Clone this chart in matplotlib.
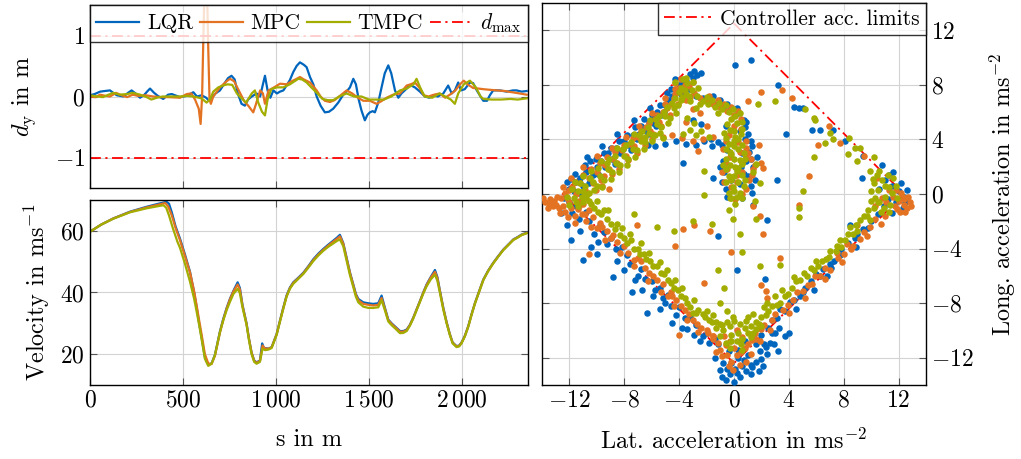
import numpy as np
import matplotlib
matplotlib.use("Agg")
import matplotlib.pyplot as plt
from matplotlib.ticker import FuncFormatter

plt.rcParams['font.family'] = 'serif'
plt.rcParams['font.serif'] = ['cmr10']
plt.rcParams['mathtext.fontset'] = 'cm'
plt.rcParams['axes.unicode_minus'] = False
plt.rcParams['font.size'] = 15

# colours (TUM)
c_lqr = '#0065BD'
c_mpc = '#E37222'
c_tmpc = '#A2AD00'

TICK_FS = 17
LABEL_FS = 17.5
LEG_FS = 15.5

# lateral deviation d_y over s  (s, d_y)
dy_lqr = [(0, 0.02), (25, 0.04), (55, 0.08), (80, 0.09), (108, 0.1), (125, 0.06), (145, 0.02), (180, 0.0),
          (205, 0.06), (224, 0.1), (245, 0.05), (269, -0.02), (290, 0.02), (310, 0.09), (323, 0.13), (345, 0.06),
          (365, 0.01), (394, -0.04), (420, 0.03), (440, 0.04), (484, -0.01), (520, 0.01), (556, 0.07), (575, 0.0),
          (600, 0.02), (625, -0.02), (640, -0.07), (655, -0.02), (675, 0.05), (699, 0.1), (720, 0.2), (742, 0.3),
          (761, 0.34), (778, 0.28), (795, 0.05), (815, -0.12), (833, -0.15), (850, -0.05), (870, 0.0), (896, 0.05),
          (915, 0.0), (930, 0.2), (941, 0.34), (955, 0.1), (970, -0.02), (986, 0.1), (1005, 0.05), (1022, 0.08),
          (1040, 0.1), (1057, 0.18), (1075, 0.27), (1093, 0.4), (1111, 0.5), (1129, 0.56), (1150, 0.52),
          (1165, 0.48), (1183, 0.32), (1201, 0.2), (1219, 0.0), (1240, -0.15), (1263, -0.26), (1285, -0.25),
          (1308, -0.2), (1335, -0.1), (1362, 0.03), (1385, 0.1), (1398, 0.15), (1416, 0.29), (1430, 0.2),
          (1445, -0.05), (1460, -0.23), (1478, -0.39), (1492, -0.3), (1505, -0.26), (1520, -0.24), (1532, -0.26),
          (1550, -0.1), (1568, 0.15), (1585, 0.38), (1604, 0.51), (1620, 0.38), (1640, 0.1), (1658, -0.02),
          (1675, 0.05), (1703, 0.13), (1720, 0.19), (1747, 0.15), (1774, 0.08), (1801, 0.0), (1825, -0.02),
          (1846, 0.02), (1870, 0.0), (1900, 0.05), (1926, 0.18), (1945, 0.05), (1962, 0.1), (1980, 0.23),
          (1995, 0.1), (2015, 0.12), (2043, 0.23), (2060, 0.22), (2080, 0.1), (2100, 0.0), (2115, -0.07),
          (2135, -0.07), (2150, 0.02), (2168, 0.1), (2204, 0.1), (2240, 0.08), (2275, 0.1), (2294, 0.1),
          (2321, 0.08), (2348, 0.09)]
dy_mpc = [(0, 0.0), (30, -0.01), (54, 0.03), (85, 0.01), (108, 0.0), (140, 0.06), (170, 0.02), (200, -0.01),
          (230, 0.03), (260, 0.01), (300, 0.02), (340, 0.0), (380, -0.01), (420, -0.01), (484, -0.02), (520, 0.04),
          (545, 0.05), (565, -0.05), (585, -0.2), (595, -0.45), (603, 0.0), (610, 1.0), (618, 2.0), (628, 2.0),
          (636, 0.8), (643, -0.05), (650, -0.12), (663, 0.0), (699, 0.15), (735, 0.25), (753, 0.29), (775, 0.25),
          (800, 0.1), (830, -0.08), (851, -0.15), (878, -0.26), (890, -0.15), (900, -0.05), (915, 0.1), (930, 0.05),
          (941, -0.12), (960, 0.1), (990, 0.15), (1022, 0.21), (1057, 0.2), (1085, 0.25), (1111, 0.29),
          (1129, 0.32), (1150, 0.28), (1183, 0.23), (1219, 0.1), (1240, 0.0), (1263, -0.07), (1290, -0.09),
          (1315, -0.06), (1340, 0.0), (1380, 0.1), (1410, 0.05), (1440, -0.02), (1470, -0.07), (1505, -0.07),
          (1541, -0.12), (1565, -0.08), (1595, -0.02), (1630, 0.03), (1667, 0.05), (1703, 0.18), (1725, 0.2),
          (1747, 0.23), (1770, 0.15), (1795, 0.02), (1820, 0.0), (1850, 0.03), (1880, 0.05), (1910, -0.02),
          (1940, 0.04), (1965, 0.1), (1990, 0.2), (2010, 0.26), (2030, 0.2), (2060, 0.14), (2090, 0.13),
          (2115, 0.12), (2150, 0.11), (2190, 0.1), (2230, 0.09), (2270, 0.07), (2310, 0.05), (2348, 0.03)]
dy_tmpc = [(0, 0.02), (40, 0.0), (70, -0.01), (100, 0.03), (125, 0.06), (160, 0.03), (200, 0.04), (230, 0.06),
           (270, 0.03), (305, -0.01), (330, -0.05), (360, -0.02), (390, 0.0), (420, 0.0), (484, 0.0), (520, 0.01),
           (556, 0.0), (600, -0.03), (627, -0.1), (645, -0.05), (663, 0.08), (690, 0.15), (716, 0.18), (740, 0.2),
           (765, 0.19), (790, 0.05), (815, -0.03), (840, -0.1), (870, 0.05), (887, 0.1), (905, -0.1), (925, -0.25),
           (941, -0.31), (955, -0.05), (975, 0.12), (1005, 0.15), (1040, 0.15), (1075, 0.2), (1100, 0.25),
           (1120, 0.29), (1140, 0.28), (1165, 0.23), (1190, 0.15), (1220, 0.06), (1250, -0.04), (1280, -0.06),
           (1308, -0.06), (1340, 0.0), (1380, 0.05), (1420, 0.0), (1460, 0.0), (1500, -0.05), (1541, -0.05),
           (1580, -0.05), (1620, 0.0), (1667, 0.1), (1703, 0.13), (1740, 0.2), (1756, 0.29), (1775, 0.15),
           (1800, 0.0), (1840, -0.02), (1880, 0.05), (1910, 0.0), (1940, -0.05), (1962, -0.12), (1980, 0.05),
           (2010, 0.2), (2043, 0.26), (2075, 0.15), (2100, 0.0), (2115, -0.04), (2160, -0.05), (2210, -0.05),
           (2260, -0.04), (2300, -0.05), (2348, -0.03)]
d_max = 1.0

# velocity over s  (s, v)
v_lqr = [(0, 59.7), (60, 62.0), (125, 64.0), (215, 66.2), (305, 67.8), (376, 68.9), (412, 69.4), (425, 68.8),
         (440, 66.0), (460, 61.5), (484, 57.5), (510, 52.5), (538, 46.7), (560, 40.0), (573, 35.5), (587, 30.0),
         (600, 25.5), (618, 19.0), (636, 16.6), (654, 17.0), (672, 19.8), (699, 27.4), (717, 31.5), (735, 35.0),
         (753, 38.0), (771, 40.5), (794, 43.3), (806, 41.5), (820, 36.0), (842, 30.0), (855, 25.0), (869, 20.5),
         (883, 18.0), (896, 17.3), (914, 18.0), (926, 23.5), (935, 22.0), (960, 21.8), (977, 22.3), (1004, 26.6),
         (1020, 30.5), (1039, 35.0), (1057, 39.0), (1075, 41.6), (1093, 43.3), (1120, 44.8), (1147, 46.4),
         (1175, 48.6), (1201, 50.8), (1228, 52.6), (1254, 54.1), (1281, 55.5), (1308, 56.8), (1330, 57.9),
         (1344, 58.7), (1362, 56.0), (1380, 51.3), (1398, 46.5), (1416, 42.6), (1430, 39.5), (1443, 37.9),
         (1470, 36.8), (1497, 36.5), (1523, 36.3), (1550, 36.5), (1568, 39.0), (1586, 35.0), (1604, 31.2),
         (1622, 30.0), (1640, 29.0), (1667, 27.5), (1685, 27.5), (1703, 28.0), (1720, 29.5), (1738, 31.8),
         (1756, 34.5), (1774, 37.2), (1792, 40.0), (1810, 42.6), (1832, 45.0), (1855, 47.3), (1868, 45.0),
         (1882, 40.5), (1900, 35.0), (1918, 30.3), (1935, 26.5), (1950, 23.8), (1971, 22.6), (1985, 22.8),
         (1998, 23.8), (2016, 26.0), (2034, 29.1), (2052, 33.0), (2070, 36.6), (2093, 40.5), (2115, 44.2),
         (2140, 47.0), (2168, 49.6), (2195, 51.8), (2222, 53.9), (2250, 55.6), (2276, 57.2), (2300, 58.0),
         (2321, 58.8), (2348, 59.4)]
v_mpc = [(0, 59.7), (60, 62.0), (125, 64.0), (215, 66.1), (305, 67.6), (376, 68.6), (405, 69.0), (420, 68.0),
         (440, 65.0), (460, 61.0), (484, 57.0), (510, 52.0), (538, 46.5), (560, 40.5), (573, 36.0), (587, 31.0),
         (600, 26.5), (618, 20.0), (636, 17.0), (654, 16.8), (672, 19.5), (699, 27.0), (717, 31.2), (735, 34.8),
         (753, 37.8), (771, 40.3), (794, 42.6), (806, 41.0), (820, 35.8), (842, 29.8), (855, 25.0), (869, 20.5),
         (883, 17.8), (896, 17.2), (914, 17.8), (928, 22.8), (941, 21.8), (960, 21.8), (977, 22.2), (1004, 26.5),
         (1020, 30.3), (1039, 34.8), (1057, 38.8), (1075, 41.4), (1093, 43.1), (1120, 44.6), (1147, 46.2),
         (1175, 48.4), (1201, 50.5), (1228, 52.3), (1254, 53.8), (1281, 55.2), (1308, 56.5), (1330, 57.5),
         (1344, 58.2), (1362, 55.8), (1380, 51.0), (1398, 46.3), (1416, 42.3), (1430, 39.2), (1443, 37.5),
         (1470, 36.3), (1497, 36.0), (1523, 35.8), (1550, 36.0), (1568, 38.2), (1586, 34.7), (1604, 31.0),
         (1622, 29.8), (1640, 28.8), (1667, 27.3), (1685, 27.3), (1703, 27.8), (1720, 29.4), (1738, 31.7),
         (1756, 34.4), (1774, 37.1), (1792, 39.9), (1810, 42.4), (1832, 44.8), (1855, 46.7), (1868, 44.6),
         (1882, 40.3), (1900, 34.8), (1918, 30.2), (1935, 26.4), (1950, 23.7), (1971, 22.5), (1985, 22.7),
         (1998, 23.7), (2016, 25.9), (2034, 29.0), (2052, 32.9), (2070, 36.5), (2093, 40.4), (2115, 44.1),
         (2140, 46.9), (2168, 49.5), (2195, 51.7), (2222, 53.8), (2250, 55.5), (2276, 57.1), (2300, 57.9),
         (2321, 58.7), (2348, 59.3)]
v_tmpc = [(0, 59.7), (60, 62.0), (125, 63.9), (215, 66.0), (305, 67.3), (376, 68.1), (395, 68.3), (410, 67.5),
          (425, 65.0), (445, 61.0), (470, 56.5), (484, 54.5), (510, 49.5), (538, 43.5), (560, 38.0), (573, 34.0),
          (587, 29.5), (600, 25.0), (618, 18.5), (636, 16.2), (654, 16.9), (672, 19.7), (699, 27.2), (717, 31.0),
          (735, 34.3), (753, 37.0), (771, 39.5), (794, 41.2), (806, 39.8), (820, 35.2), (842, 29.5), (855, 24.5),
          (869, 20.0), (883, 17.5), (896, 16.9), (914, 17.5), (928, 21.8), (941, 21.3), (960, 21.5), (977, 22.0),
          (1004, 26.3), (1020, 30.2), (1039, 34.6), (1057, 38.6), (1075, 41.2), (1093, 42.8), (1120, 44.4),
          (1147, 46.0), (1175, 48.1), (1201, 50.2), (1228, 52.0), (1254, 53.5), (1281, 54.8), (1308, 55.9),
          (1330, 56.8), (1344, 57.2), (1362, 55.0), (1380, 50.3), (1398, 45.6), (1416, 41.7), (1430, 38.6),
          (1443, 36.8), (1470, 35.4), (1497, 35.0), (1523, 35.0), (1550, 35.2), (1568, 37.5), (1586, 34.2),
          (1604, 30.6), (1622, 29.4), (1640, 28.4), (1667, 26.8), (1685, 26.9), (1703, 27.5), (1720, 29.2),
          (1738, 31.5), (1756, 34.2), (1774, 36.9), (1792, 39.6), (1810, 42.0), (1832, 44.2), (1855, 45.8),
          (1868, 43.8), (1882, 39.8), (1900, 34.4), (1918, 29.9), (1935, 26.2), (1950, 23.5), (1971, 22.3),
          (1985, 22.5), (1998, 23.5), (2016, 25.8), (2034, 28.9), (2052, 32.8), (2070, 36.4), (2093, 40.3),
          (2115, 44.0), (2140, 46.8), (2168, 49.4), (2195, 51.6), (2222, 53.7), (2250, 55.4), (2276, 57.0),
          (2300, 57.8), (2321, 58.6), (2348, 59.2)]

# acceleration limit polygon (lat, long)
acc_limit = [(0, 12.5), (12.4, 0), (0, -12.4), (-12.5, 0), (0, 12.5)]

# measured accelerations (lat, long)
acc_lqr = [
    # upper left edge
    (-12.4, -0.3), (-12.0, 0.4), (-11.7, 0.2), (-11.5, 0.9), (-11.2, 1.2), (-11.0, 0.6), (-10.8, 1.6), (-10.5, 2.4),
    (-10.3, 1.4), (-10.0, 2.0), (-9.7, 2.4), (-9.4, 2.0), (-9.2, 3.0), (-8.9, 2.6), (-8.6, 3.4), (-8.3, 3.0),
    (-8.0, 3.9), (-7.7, 3.6), (-7.4, 4.3), (-7.1, 4.0), (-6.8, 5.0), (-6.5, 4.7), (-6.2, 5.3), (-5.9, 5.2),
    (-5.6, 6.0), (-5.3, 5.8), (-5.0, 6.5), (-4.8, 6.9), (-4.5, 7.2), (-4.2, 7.6), (-3.9, 7.3),
    (-12.2, 0.9), (-11.9, 1.1), (-11.3, 0.1), (-10.9, 2.1), (-10.6, 0.8), (-10.1, 2.6), (-9.9, 1.5), (-9.5, 3.0),
    (-9.0, 3.4), (-8.7, 2.2), (-8.4, 3.9), (-8.1, 3.3), (-7.8, 4.3), (-7.5, 3.2), (-7.2, 4.9), (-6.9, 4.4),
    (-6.6, 5.5), (-6.3, 4.4), (-6.0, 5.8), (-5.7, 5.0), (-5.4, 6.5), (-5.1, 6.0), (-4.6, 7.7), (-4.0, 8.0),
    (-3.7, 8.2), (-11.6, 1.5), (-10.7, 2.7), (-9.6, 3.5), (-8.5, 4.4), (-7.3, 5.4), (-6.1, 6.3), (-4.9, 7.4),
    (-4.3, 8.4), (-3.2, 8.8), (-2.9, 9.0),
    # top arc
    (-3.5, 8.3), (-3.0, 8.5), (-2.7, 8.7), (-2.4, 8.9), (-3.3, 7.7), (-2.8, 7.2), (-2.3, 7.0), (-1.8, 6.9),
    (-1.3, 6.6), (-0.8, 6.4), (-0.3, 6.2), (0.3, 5.9), (0.7, 5.4), (-1.5, 7.2), (-1.0, 6.9), (-0.5, 6.6),
    (0.2, 6.3),
    # inner ring
    (-6.3, 3.6), (-5.8, 3.5), (-5.0, 3.7), (-4.2, 3.9), (-3.5, 3.7), (-2.8, 3.6), (-2.2, 3.9), (-1.6, 3.5),
    (-1.2, 3.8), (-3.0, 5.4), (-2.4, 5.1), (-1.7, 4.0), (-3.75, 2.3), (-1.5, 1.2),
    # centre column
    (-0.6, 5.0), (0.4, 4.6), (0.8, 4.0), (-0.5, 3.2), (0.6, 3.0), (1.2, 2.6), (0.5, 2.0), (-0.7, 1.6),
    (1.0, 1.3), (0.4, 0.7), (-0.6, 0.4), (1.3, 0.1), (0.9, 5.3), (1.2, 3.9), (1.65, 2.7), (-0.2, 1.0),
    (0.8, 4.9), (1.0, 4.4), (1.3, 3.5), (0.9, 2.4), (1.4, 2.0), (0.7, 1.5), (1.2, 0.6), (0.6, -0.3),
    (-0.8, 2.4), (-0.9, 0.9), (-0.5, -0.2), (-0.9, 3.6), (-1.0, 2.0), (1.1, 3.1), (1.5, 1.0),
    # upper right edge
    (0.1, 9.45), (1.2, 9.8), (3.2, 8.0), (4.4, 6.35), (4.7, 6.3), (5.0, 6.3), (3.8, 4.4), (5.7, 4.7),
    (6.3, 4.7), (7.2, 4.7), (8.1, 3.9), (9.4, 2.8), (10.8, 2.1), (9.3, 1.2), (11.3, 1.4), (3.1, 1.0),
    (11.0, 1.0), (11.5, 0.6), (12.0, 0.2), (12.4, -0.2), (11.8, -0.6), (12.3, -1.0), (11.2, -0.4), (10.6, 0.4),
    (12.6, 0.3), (11.6, 1.6), (12.2, 0.8), (12.5, -0.6), (11.5, -1.4), (10.9, -0.9),
    # lower right edge
    (10.0, -2.0), (9.4, -2.6), (8.45, -2.3), (8.8, -3.2), (7.7, -4.5), (7.3, -4.9), (6.0, -5.9), (6.5, -5.5),
    (5.2, -6.9), (4.8, -7.5), (4.1, -7.9), (3.35, -8.4), (2.8, -9.2), (3.7, -10.4), (4.0, -10.2), (3.2, -11.5),
    (2.3, -11.2), (2.4, -11.7), (2.0, -12.1), (1.3, -12.7), (0.25, -13.1), (1.2, -13.2), (2.1, -12.6), (7.0, -5.1),
    (9.8, -2.5), (9.0, -2.9), (8.3, -3.6), (7.8, -4.0), (7.1, -5.4), (6.3, -6.0), (5.6, -6.4), (5.0, -7.2),
    (4.4, -7.8), (3.7, -8.6), (3.1, -9.1), (2.5, -9.8), (2.0, -10.3), (10.5, -1.5), (8.9, -3.9), (6.8, -6.0),
    (5.8, -7.0), (4.5, -8.4), (3.0, -10.2),
    # bottom
    (-0.6, -13.6), (0.0, -13.8), (-0.3, -13.2), (0.6, -12.6), (-0.8, -12.4), (0.3, -12.0), (1.0, -11.8),
    (-0.4, -11.5), (1.6, -11.0), (0.8, -10.8), (-1.2, -11.0), (-1.8, -10.9), (1.6, -12.3), (2.6, -10.9),
    (0.1, -12.8), (-1.0, -12.9), (0.3, -11.4), (0.7, -12.2), (1.2, -12.5), (1.9, -11.5), (-0.5, -12.8),
    (0.4, -13.4), (-0.2, -12.4), (1.5, -10.6), (2.2, -11.0), (2.8, -10.2), (3.3, -9.8), (0.9, -13.0),
    (-1.4, -12.0), (2.9, -11.0), (1.8, -13.0), (-0.9, -13.4),
    # lower left edge
    (-12.2, -2.3), (-11.9, -3.4), (-11.0, -4.85), (-10.0, -4.4), (-10.4, -3.9), (-8.8, -6.1), (-7.45, -7.15),
    (-6.35, -8.7), (-7.2, -6.3), (-5.75, -7.0), (-5.0, -8.0), (-4.5, -9.45), (-2.5, -10.8), (-11.5, -0.9),
    (-10.8, -1.3), (-9.8, -2.3), (-9.0, -3.2), (-8.2, -3.9), (-7.8, -4.5), (-6.8, -5.5), (-6.0, -6.4),
    (-5.4, -6.9), (-4.8, -7.4), (-4.0, -8.3), (-3.2, -9.0), (-2.8, -9.6), (-2.0, -10.2), (-1.4, -10.6),
    (-11.8, -1.4), (-11.3, -1.8), (-10.6, -2.0), (-10.2, -2.9), (-9.5, -2.8), (-9.3, -3.7), (-8.6, -4.0),
    (-8.5, -4.9), (-7.6, -5.1), (-7.0, -6.0), (-6.5, -6.2), (-5.9, -7.5), (-5.2, -7.6), (-4.6, -8.2),
    (-4.2, -8.9), (-3.6, -9.1), (-3.4, -9.9), (-2.9, -10.3), (-2.3, -10.4), (-12.0, -0.6), (-12.6, -1.4),
    (-11.2, -2.7), (-9.9, -3.5), (-8.0, -5.6), (-6.7, -7.0), (-5.4, -8.4), (-3.8, -9.8),
    # interior
    (-1.2, -3.1), (0.2, -5.6), (2.25, -6.2), (2.4, -1.9), (1.4, -0.8)]
acc_mpc = [
    # upper left edge
    (-13.8, -0.6), (-13.4, -0.4), (-13.0, -0.8), (-12.6, -0.3), (-12.3, 0.1), (-12.0, -0.6), (-11.8, 0.5),
    (-11.5, 0.0), (-11.2, 0.8), (-10.9, 0.3), (-10.6, 1.2), (-10.3, 0.8), (-10.0, 1.6), (-9.7, 1.0), (-9.4, 2.1),
    (-9.1, 1.8), (-8.8, 2.6), (-8.5, 2.3), (-8.2, 3.2), (-7.9, 2.8), (-7.6, 3.7), (-7.3, 3.5), (-7.0, 4.2),
    (-6.7, 4.0), (-6.4, 4.9), (-6.1, 4.6), (-5.8, 5.5), (-5.5, 5.3), (-5.2, 6.0), (-4.9, 6.3), (-4.6, 6.6),
    (-4.3, 7.3), (-4.0, 7.8), (-9.5, 1.3), (-9.1, 0.4),
    (-12.0, 0.3), (-11.6, 0.9), (-11.3, -0.5), (-11.0, 1.4), (-10.7, 0.0), (-10.4, 1.8), (-10.1, 0.3),
    (-9.8, 2.3), (-9.6, 0.6), (-9.3, 2.7), (-8.9, 1.5), (-8.7, 3.1), (-8.4, 1.8), (-8.0, 3.6), (-7.7, 2.5),
    (-7.4, 4.1), (-7.1, 3.0), (-6.8, 4.6), (-6.5, 3.6), (-6.2, 5.2), (-5.9, 4.4), (-5.6, 5.8), (-5.3, 5.0),
    (-5.0, 6.6), (-4.7, 5.8), (-4.4, 7.0), (-4.1, 6.6), (-3.6, 8.0), (-3.5, 6.9),
    (-12.5, 0.5), (-11.9, 1.2), (-11.0, 2.0), (-10.0, 2.8), (-8.9, 3.4), (-7.9, 4.2), (-6.9, 5.0), (-6.0, 5.9),
    (-5.0, 7.0), (-4.3, 7.7), (-3.9, 8.4), (-3.0, 8.2),
    (-13.2, -0.9), (-12.9, -0.2), (-12.5, -0.9), (-12.2, -0.3), (-11.9, -1.0), (-11.4, -1.1), (-11.1, -1.5),
    (-10.8, -2.0), (-10.4, -2.4), (-13.9, -0.3), (-13.6, -1.0), (-13.1, -0.5), (-12.7, -1.4), (-12.1, -1.7),
    (-11.6, -2.1),
    # top arc
    (-4.3, 8.1), (-3.8, 7.6), (-3.3, 7.9), (-2.9, 7.4), (-2.5, 7.0), (-2.0, 6.8), (-1.5, 6.6), (-1.0, 6.4),
    (-0.5, 6.1), (0.0, 5.8), (0.5, 5.5), (-3.0, 6.2), (-2.5, 5.9), (-1.8, 7.2), (-1.2, 6.9), (-0.7, 6.6),
    (-0.2, 6.4), (0.3, 6.1), (-3.2, 7.1),
    # inner ring
    (-6.0, 4.0), (-5.2, 4.2), (-4.5, 4.3), (-3.8, 4.1), (-3.0, 3.9), (-2.3, 4.0), (-1.5, 4.2), (-3.5, 5.3),
    (-2.6, 3.15), (-2.0, 5.0),
    # centre column
    (0.0, 5.0), (-0.4, 4.3), (0.3, 3.8), (0.9, 3.4), (-0.3, 2.7), (0.6, 2.3), (1.5, 2.1), (-0.5, 1.8),
    (0.2, 1.4), (1.1, 1.0), (-0.2, 0.5), (0.6, 0.0), (1.8, 3.6), (1.4, 1.8), (2.0, 2.3),
    (0.5, 4.8), (-0.6, 3.9), (0.9, 3.9), (0.4, 3.1), (-0.6, 2.3), (0.9, 2.7), (1.3, 1.4), (0.2, 0.9),
    (-0.7, 0.9), (0.9, 0.4), (0.1, -0.4), (-0.8, 3.3), (-0.9, 1.6), (1.2, 2.6), (0.6, 1.6),
    # upper right edge
    (2.0, 7.5), (3.5, 7.6), (1.0, 6.8), (4.2, 7.0), (6.9, 5.0), (6.1, 3.6), (7.7, 3.75), (9.5, 2.8),
    (10.4, 1.2), (5.5, 1.3), (2.1, 1.9), (1.0, 3.0),
    (11.6, -0.2), (12.0, -0.5), (12.4, -0.8), (12.8, -0.6), (11.9, -1.1), (12.5, -1.3), (11.3, 0.3),
    (10.8, -0.3), (12.2, 0.1), (10.3, -0.9), (12.7, -0.2), (11.7, -0.9), (12.1, -1.3), (12.6, -1.0),
    (12.9, -0.9), (12.3, -0.2), (11.8, 0.3), (11.1, -0.6), (12.4, -0.4),
    # lower right edge
    (9.5, -2.8), (9.0, -2.3), (8.7, -3.8), (8.2, -3.7), (7.9, -5.0), (7.5, -4.3), (6.6, -5.4), (5.4, -6.7),
    (5.9, -6.0), (4.6, -7.2), (3.9, -8.1), (2.4, -7.6), (3.0, -8.8), (2.2, -9.6), (3.35, -4.7), (2.1, -2.9),
    (10.3, -1.8), (9.9, -2.4), (9.2, -3.3), (8.5, -4.0), (7.6, -4.7), (7.0, -5.6), (6.3, -6.0), (5.7, -6.6),
    (5.0, -7.1), (4.3, -7.8), (3.6, -8.5), (2.8, -9.2), (2.0, -9.9), (1.6, -10.6),
    (11.0, -1.6), (10.7, -2.2), (9.7, -3.1), (8.0, -4.4), (6.6, -6.2), (5.2, -7.6), (4.0, -8.7), (2.6, -10.0),
    # bottom
    (-1.0, -11.4), (-0.5, -11.8), (0.0, -11.3), (0.5, -11.6), (1.0, -11.0), (-0.2, -12.3), (-1.5, -10.6),
    (0.6, -10.5), (1.5, -10.2), (0.2, -10.0), (-0.7, -10.4), (-1.5, -10.4), (-0.1, -12.9),
    (-0.6, -11.1), (0.2, -11.8), (0.8, -11.3), (-0.9, -11.9), (-0.3, -10.8), (1.3, -10.7), (0.4, -12.5),
    (-1.2, -10.9), (-1.9, -10.2), (-0.4, -12.6), (1.2, -11.7), (0.9, -12.3), (-1.3, -11.6), (1.9, -10.8),
    # lower left edge
    (-10.25, -1.7), (-9.3, -2.7), (-7.3, -4.85), (-4.8, -7.5), (-4.5, -7.5), (-1.5, -10.4), (-10.6, -4.4),
    (-4.05, -10.3), (-2.2, -6.5), (-11.0, -0.7), (-10.6, -1.2), (-9.8, -2.1), (-8.8, -3.0), (-8.0, -3.8),
    (-6.8, -4.9), (-6.2, -5.8), (-5.6, -6.3), (-4.2, -7.8), (-3.6, -8.5), (-3.0, -9.2), (-2.4, -9.8),
    (-13.5, -0.7), (-12.8, -1.0), (-12.3, -1.3), (-11.6, -1.6),
    (-11.3, -0.9), (-10.9, -1.5), (-10.0, -2.5), (-9.6, -2.4), (-9.0, -3.2), (-8.5, -3.5), (-7.7, -4.3),
    (-7.0, -4.7), (-6.5, -5.4), (-5.9, -6.0), (-5.2, -6.6), (-4.6, -7.2), (-3.9, -8.2), (-3.3, -8.8),
    (-2.7, -9.5), (-2.0, -10.0), (-9.4, -3.4), (-8.3, -4.3), (-7.3, -5.3), (-6.3, -6.4), (-5.3, -7.2),
    (-4.4, -8.2), (-3.4, -9.2), (-2.6, -10.1),
    # interior
    (-0.2, -4.25), (-1.75, -2.7), (-2.95, -2.3), (-4.3, -3.8), (-7.1, -2.3), (1.4, -0.9), (1.9, -1.6),
    (-3.7, -2.6), (4.7, -0.8), (2.0, -6.7), (2.3, -7.1)]
acc_tmpc = [
    # upper left edge
    (-12.0, -0.8), (-11.7, -0.3), (-11.4, 0.2), (-11.1, -0.2), (-10.9, 0.6), (-10.6, 0.1), (-10.3, 0.9),
    (-10.0, 0.6), (-9.8, 1.3), (-9.5, 1.0), (-9.2, 1.8), (-8.9, 1.6), (-8.6, 2.3), (-8.3, 2.1), (-8.0, 2.8),
    (-7.7, 2.6), (-7.4, 3.3), (-7.1, 3.2), (-6.8, 3.9), (-6.5, 3.8), (-6.2, 4.5), (-5.9, 4.3), (-5.6, 5.1),
    (-5.3, 4.9), (-5.0, 5.7), (-4.7, 5.6), (-4.4, 6.3), (-4.1, 6.5), (-3.8, 7.1), (-3.6, 7.6), (-3.4, 8.1),
    (-11.8, 0.4), (-11.5, -0.6), (-11.2, 0.8), (-10.8, -0.3), (-10.5, 1.2), (-10.2, 0.3), (-9.9, 1.9),
    (-9.6, 0.5), (-9.3, 2.3), (-9.0, 1.1), (-8.7, 2.8), (-8.4, 1.6), (-8.1, 3.3), (-7.8, 2.1), (-7.5, 3.8),
    (-7.2, 2.7), (-6.9, 4.3), (-6.6, 3.3), (-6.3, 4.9), (-6.0, 3.9), (-5.7, 5.5), (-5.4, 4.5), (-5.1, 6.0),
    (-4.8, 5.2), (-4.5, 6.7), (-4.2, 5.9), (-3.9, 6.9), (-3.7, 8.4), (-3.3, 7.2),
    (-12.2, -0.2), (-11.6, 0.9), (-11.0, 1.3), (-10.4, 1.7), (-9.7, 2.4), (-9.1, 2.6), (-8.5, 3.4),
    (-7.9, 3.6), (-7.3, 4.4), (-6.7, 4.6), (-6.1, 5.4), (-5.5, 5.7), (-4.9, 6.4), (-4.3, 7.0), (-4.0, 7.5),
    (-3.5, 8.5), (-3.0, 8.2), (-2.6, 7.8),
    # top arc
    (-4.3, 8.2), (-3.9, 7.8), (-3.5, 7.3), (-3.1, 7.6), (-2.7, 7.2), (-2.3, 6.8), (-1.9, 6.6), (-1.4, 6.4),
    (-0.9, 6.2), (-0.4, 6.0), (0.1, 5.7), (0.6, 5.3), (-3.2, 6.8), (-2.8, 6.3),
    (-2.0, 7.1), (-1.6, 6.9), (-1.1, 6.7), (-0.6, 6.5), (-0.1, 6.2), (0.4, 5.9), (-2.5, 6.6), (-1.2, 5.9),
    # inner ring
    (-6.5, 4.2), (-5.8, 4.3), (-5.2, 4.1), (-3.7, 4.4), (-3.2, 4.7), (-2.8, 4.3), (-2.4, 4.6), (-1.8, 4.2),
    (-2.2, 1.7), (-3.4, 5.6), (-2.9, 5.2),
    # centre column
    (0.2, 5.2), (-0.3, 4.7), (0.1, 4.2), (-0.4, 3.7), (0.3, 3.3), (-0.2, 2.9), (0.4, 2.5), (-0.3, 2.1),
    (0.2, 1.7), (-0.4, 1.3), (0.3, 0.9), (-0.1, 0.5), (0.4, 0.1), (-0.3, -0.3), (0.0, 3.9), (0.1, 2.0),
    (1.6, 2.2), (1.4, 1.6), (1.9, 0.8),
    (0.6, 4.8), (-0.5, 5.1), (0.5, 4.4), (-0.6, 4.1), (0.6, 3.6), (-0.6, 3.3), (0.7, 3.0), (-0.6, 2.6),
    (0.6, 2.2), (-0.6, 1.8), (0.6, 1.4), (-0.6, 0.9), (0.7, 0.6), (-0.4, 0.1), (0.6, -0.3), (0.1, -0.7),
    (0.0, 4.6), (0.0, 3.5), (0.0, 2.6), (0.0, 1.3), (0.0, 0.2), (-0.2, 5.5), (0.3, 4.0), (-0.3, 3.1),
    (0.3, 1.9), (-0.2, 1.0), (0.2, -0.2), (-0.7, 4.5), (0.8, 2.6), (-0.8, 2.1), (0.8, 1.0),
    # upper right edge
    (3.0, 6.8), (1.75, 6.6), (5.2, 6.2), (5.8, 5.6), (5.9, 5.45), (7.0, 4.5), (6.6, 3.75), (7.2, 4.0),
    (8.4, 4.1), (8.3, 2.9), (8.8, 3.4), (9.2, 3.4), (9.0, 2.4), (10.2, 2.7), (9.9, 1.7), (5.8, 2.7), (5.0, 0.2),
    (10.2, 0.8), (10.5, 0.3), (10.8, 1.0), (11.0, -0.2), (11.3, 0.5), (10.6, -0.6), (11.6, 1.2), (10.9, -1.0),
    (11.4, -0.8), (10.0, 0.2), (10.4, 1.4), (11.8, 0.6), (10.7, -1.3), (11.2, 1.4), (11.5, 0.1), (10.1, 1.1),
    (10.3, -0.3), (11.0, 0.6), (11.3, -1.3), (10.6, 1.7), (11.9, -0.3), (10.0, -0.5),
    # lower right edge
    (9.8, -1.2), (9.7, -1.6), (9.2, -1.9), (8.45, -2.4), (8.1, -3.4), (7.4, -4.2), (7.0, -4.2), (6.1, -5.3),
    (5.6, -5.4), (4.8, -6.3), (4.2, -6.9), (3.35, -8.0), (3.0, -7.5), (2.5, -8.6), (2.0, -9.0), (1.6, -9.4),
    (3.35, -5.2), (4.7, -1.0), (4.7, -1.7), (1.9, -5.3),
    (10.2, -1.0), (9.5, -1.6), (8.9, -2.3), (8.7, -2.9), (7.7, -3.4), (7.8, -3.9), (6.7, -4.8), (6.4, -4.9),
    (5.8, -5.6), (5.3, -6.0), (4.5, -6.4), (3.9, -7.3), (3.7, -7.5), (2.8, -8.2), (2.3, -8.9),
    (10.5, -0.6), (9.9, -1.9), (9.0, -2.7), (8.3, -2.9), (7.5, -3.8), (6.9, -4.6), (6.0, -4.9), (5.1, -5.8),
    (4.4, -6.1), (3.5, -7.0), (3.1, -8.1), (2.4, -8.0), (1.2, -9.7),
    # bottom
    (-0.8, -10.0), (-0.3, -9.7), (0.3, -10.2), (0.8, -9.8), (1.2, -10.5), (-0.2, -10.8), (0.5, -11.0),
    (1.8, -9.5), (-0.6, -10.9), (0.0, -9.3), (1.4, -8.8), (2.2, -8.3), (-0.5, -8.6),
    (-1.0, -10.4), (-0.2, -10.3), (0.6, -10.6), (1.0, -10.2), (1.6, -9.9), (-0.5, -9.4), (0.4, -9.5),
    (-1.3, -9.8), (1.0, -9.0), (0.6, -11.4), (-0.3, -11.3), (2.0, -9.7), (0.2, -10.8), (1.4, -10.2),
    (-0.9, -9.6), (0.9, -9.3), (-0.1, -9.0),
    # lower left edge
    (-11.0, 0.2), (-10.6, -0.5), (-10.2, -1.0), (-9.7, -1.5), (-9.3, -1.8), (-8.7, -2.6), (-7.8, -3.6),
    (-6.85, -4.4), (-5.9, -5.3), (-4.8, -6.3), (-3.9, -7.5), (-3.0, -8.7), (-2.1, -9.0), (-1.0, -9.5),
    (-8.3, -3.0), (-7.3, -4.0), (-6.4, -4.8), (-5.3, -5.8), (-4.4, -6.9), (-3.4, -8.0), (-2.6, -8.5),
    (-1.6, -9.4),
    (-10.8, -0.1), (-10.4, -0.7), (-9.9, -1.3), (-9.5, -1.2), (-9.0, -2.2), (-8.5, -2.2), (-8.0, -3.2),
    (-7.5, -3.4), (-7.0, -4.0), (-6.6, -4.4), (-6.1, -4.9), (-5.6, -5.3), (-5.1, -5.9), (-4.6, -6.5),
    (-4.1, -7.0), (-3.6, -7.6), (-3.2, -8.3), (-2.8, -8.7), (-2.3, -8.8), (-1.8, -9.2), (-1.3, -9.4),
    (-11.4, -0.9), (-11.0, -0.6), (-10.0, -0.5), (-9.2, -1.2), (-8.2, -2.5), (-7.6, -2.9), (-6.8, -3.6),
    (-6.2, -4.3), (-5.4, -5.0), (-4.9, -5.6), (-4.3, -6.3), (-3.8, -6.9), (-2.9, -7.8), (-2.0, -8.6),
    (-1.5, -8.9),
    # interior
    (-2.2, -0.1), (-0.2, -0.3), (-0.4, -1.2), (-0.1, -1.8), (0.4, -2.9), (0.55, -4.25), (-1.15, -5.6),
    (1.5, -0.5), (1.6, -1.8), (-4.4, -2.7), (-5.6, -2.4), (-3.0, -2.0), (-1.6, -2.2), (-7.3, -1.45),
    (-1.0, -8.0), (-0.7, -6.9)]


def style(ax):
    ax.grid(True, color='#d3d3d3', lw=0.8)
    ax.set_axisbelow(True)
    ax.tick_params(direction='in', top=True, right=True, length=5, color='#555555', labelsize=TICK_FS)
    for sp in ax.spines.values():
        sp.set_linewidth(1.0)


def num(v, pos):
    v = int(round(v))
    s = f'{abs(v):,}'.replace(',', r'\,')
    return f'${"-" if v < 0 else ""}{s}$'


fmt = FuncFormatter(num)
dash = (0, (6, 2.5, 1.2, 2.5))

fig = plt.figure(figsize=(10.21, 4.59), dpi=100)
ax1 = fig.add_axes([0.0881, 0.5904, 0.429, 0.3987])
ax2 = fig.add_axes([0.0881, 0.1612, 0.429, 0.4031])
ax3 = fig.add_axes([0.5309, 0.1612, 0.3761, 0.8323])

# top left: lateral deviation
for data, col, lab in [(dy_lqr, c_lqr, 'LQR'), (dy_mpc, c_mpc, 'MPC'), (dy_tmpc, c_tmpc, 'TMPC')]:
    a = np.array(data)
    ax1.plot(a[:, 0], a[:, 1], color=col, lw=1.6, label=lab)
ax1.axhline(d_max, color='red', lw=1.3, ls=dash, label=r'$d_\mathrm{max}$')
ax1.axhline(-d_max, color='red', lw=1.3, ls=dash)
ax1.set_xlim(0, 2355)
ax1.set_ylim(-1.5, 1.5)
ax1.set_yticks([-1, 0, 1])
ax1.set_xticks([0, 500, 1000, 1500, 2000])
ax1.xaxis.set_major_formatter(FuncFormatter(lambda v, p: ''))
ax1.yaxis.set_major_formatter(fmt)
ax1.set_ylabel(r'$d_\mathrm{y}$ in m', fontsize=LABEL_FS, labelpad=12)
style(ax1)
leg = ax1.legend(loc='upper left', bbox_to_anchor=(0, 1, 1, 0), mode='expand', ncol=4, fontsize=LEG_FS,
                 frameon=True, fancybox=False, edgecolor='black', framealpha=0.8, borderaxespad=0,
                 handlelength=2.0, handletextpad=0.35, columnspacing=0.5, borderpad=0.3)
leg.get_frame().set_linewidth(1.0)

# bottom left: velocity
for data, col in [(v_lqr, c_lqr), (v_mpc, c_mpc), (v_tmpc, c_tmpc)]:
    a = np.array(data)
    ax2.plot(a[:, 0], a[:, 1], color=col, lw=1.6)
ax2.set_xlim(0, 2355)
ax2.set_ylim(10, 70)
ax2.set_yticks([20, 40, 60])
ax2.set_xticks([0, 500, 1000, 1500, 2000])
ax2.xaxis.set_major_formatter(fmt)
ax2.yaxis.set_major_formatter(fmt)
ax2.set_xlabel('s in m', fontsize=LABEL_FS, labelpad=12)
ax2.set_ylabel(r'Velocity in ms$^{-1}$', fontsize=LABEL_FS, labelpad=6)
style(ax2)

# right: acceleration
lim = np.array(acc_limit)
ax3.plot(lim[:, 0], lim[:, 1], color='red', lw=1.3, ls=dash, label='Controller acc. limits', zorder=2)
for data, col in [(acc_lqr, c_lqr), (acc_mpc, c_mpc), (acc_tmpc, c_tmpc)]:
    a = np.array(data)
    ax3.scatter(a[:, 0], a[:, 1], s=22, color=col, linewidths=0, zorder=3)
ax3.set_xlim(-14, 14)
ax3.set_ylim(-14, 14)
ticks = [-12, -8, -4, 0, 4, 8, 12]
ax3.set_xticks(ticks)
ax3.set_yticks(ticks)
ax3.xaxis.set_major_formatter(fmt)
ax3.yaxis.set_major_formatter(fmt)
style(ax3)
ax3.tick_params(labelleft=False, labelright=True)
ax3.yaxis.set_label_position('right')
ax3.set_xlabel(r'Lat. acceleration in ms$^{-2}$', fontsize=LABEL_FS, labelpad=12)
ax3.set_ylabel(r'Long. acceleration in ms$^{-2}$', fontsize=LABEL_FS, labelpad=10)
leg3 = ax3.legend(loc='upper right', fontsize=LEG_FS, frameon=True, fancybox=False, edgecolor='black',
                  framealpha=0.8, borderaxespad=0, handlelength=2.2, handletextpad=0.4, borderpad=0.3)
leg3.get_frame().set_linewidth(1.0)
leg3.set_zorder(5)

fig.savefig('out.png', dpi=100)
